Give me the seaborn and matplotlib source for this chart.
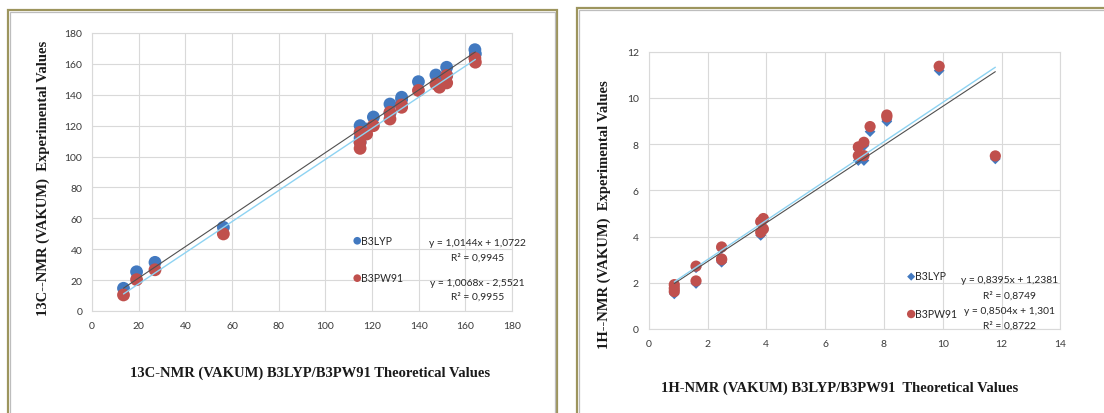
import numpy as np
import pandas as pd
import matplotlib
matplotlib.use("Agg")
import matplotlib.pyplot as plt
from matplotlib.patches import Rectangle
import seaborn as sns

# --- du lieu 13C-NMR ---
c13_x = [13.5, 19.1, 27.0, 56.3, 114.9, 114.9, 114.9, 117.7, 120.6, 127.7, 127.7,
         132.7, 132.7, 139.9, 147.4, 148.9, 152.0, 152.0, 164.1, 164.3]
c13_b3lyp = [14.7, 25.4, 31.5, 54.2, 120.0, 109.2, 112.0, 117.8, 125.6, 134.0, 128.0,
             138.4, 137.0, 148.5, 152.8, 150.2, 157.8, 152.5, 169.2, 166.5]
c13_b3pw91 = [10.4, 20.3, 26.7, 49.9, 115.7, 105.3, 109.2, 114.6, 120.0, 128.7, 124.3,
              133.4, 131.9, 142.8, 147.0, 144.9, 152.5, 147.7, 163.6, 161.1]
c13_fit = {"B3LYP": (1.0144, 1.0722, 0.9945), "B3PW91": (1.0068, -2.5521, 0.9955)}

# --- du lieu 1H-NMR ---
h1_x = [0.87, 0.87, 0.87, 1.61, 1.61, 2.48, 2.48, 2.48, 3.81, 3.81, 3.90, 3.90,
        7.13, 7.13, 7.32, 7.32, 7.53, 8.10, 8.10, 9.88, 11.79]
h1_b3lyp = [1.52, 1.68, 1.84, 2.65, 1.97, 3.48, 2.89, 2.98, 4.58, 4.05, 4.70, 4.25,
            7.78, 7.29, 7.93, 7.29, 8.54, 8.98, 9.05, 11.18, 7.36]
h1_b3pw91 = [1.62, 1.76, 1.92, 2.72, 2.08, 3.55, 3.03, 3.00, 4.65, 4.18, 4.78, 4.33,
             7.88, 7.50, 8.08, 7.50, 8.76, 9.26, 9.18, 11.37, 7.49]
h1_fit = {"B3LYP": (0.8395, 1.2381, 0.8749), "B3PW91": (0.8504, 1.301, 0.8722)}

BLUE = "#4279C0"
RED = "#C0504D"
GRID = "#D9D9D9"
TXT = "#262626"

sns.set_style("white")
plt.rcParams["font.family"] = ["Lato", "DejaVu Sans"]

fig = plt.figure(figsize=(11.04, 4.14), dpi=100)


def eq_text(m, b, r2):
    sign = "+" if b >= 0 else "-"
    s = f"y = {m:g}x {sign} {abs(b):g}"
    return s.replace(".", ","), f"R² = {r2:g}".replace(".", ",")


def style_axes(ax, xmax, xstep, ymax, ystep):
    ax.set_xlim(0, xmax)
    ax.set_ylim(0, ymax)
    ax.set_xticks(np.arange(0, xmax + 0.1, xstep))
    ax.set_yticks(np.arange(0, ymax + 0.1, ystep))
    ax.grid(True, color=GRID, lw=0.8)
    ax.set_axisbelow(True)
    for sp in ax.spines.values():
        sp.set_color(GRID)
        sp.set_linewidth(0.8)
    ax.tick_params(length=0, labelsize=7.5, labelcolor="#3A3A3A", pad=7)
    ax.set_xlabel("")
    ax.set_ylabel("")


def frame(x0, x1, top):
    W, H = 1104, 414
    for off, col, lw in [(0, "#9D955E", 1.6), (2.2, "#BDBDBD", 0.9)]:
        r = Rectangle(((x0 + off) / W, -0.1), (x1 - x0 - 2 * off) / W,
                      1.1 - (top + off) / H, transform=fig.transFigure,
                      fill=False, edgecolor=col, lw=lw)
        fig.add_artist(r)


frame(8, 557, 11)
frame(577, 1115, 9)

# ---------- 13C ----------
ax1 = fig.add_axes([92 / 1104, 1 - 312 / 414, 420 / 1104, 278 / 414])
df1 = pd.DataFrame({"x": c13_x, "B3LYP": c13_b3lyp, "B3PW91": c13_b3pw91})
sns.scatterplot(data=df1, x="x", y="B3LYP", ax=ax1, color=BLUE, s=85,
                edgecolor="none", label="B3LYP", zorder=3)
sns.scatterplot(data=df1, x="x", y="B3PW91", ax=ax1, color=RED, s=85,
                edgecolor="none", label="B3PW91", zorder=4)
xr = np.array([min(c13_x), max(c13_x)])
m, b, _ = c13_fit["B3LYP"]
ax1.plot(xr, m * xr + b, color="#505050", lw=0.8, zorder=5)
m, b, _ = c13_fit["B3PW91"]
ax1.plot(xr, m * xr + b, color="#8ED3F2", lw=1.0, zorder=5)
style_axes(ax1, 180, 20, 180, 20)
ax1.legend(loc="center left", bbox_to_anchor=(0.624, 0.188), frameon=False,
           fontsize=7.6, labelspacing=2.5, handlelength=0.6, handletextpad=0.1,
           borderpad=0, borderaxespad=0, markerscale=0.6, labelcolor=TXT)
for (key, ys) in [("B3LYP", (0.245, 0.194)), ("B3PW91", (0.104, 0.054))]:
    l1, l2 = eq_text(*c13_fit[key])
    ax1.text(0.917, ys[0], l1, transform=ax1.transAxes, ha="center", va="center",
             fontsize=7.4, color=TXT)
    ax1.text(0.917, ys[1], l2, transform=ax1.transAxes, ha="center", va="center",
             fontsize=7.4, color=TXT)

fig.text(43 / 1104, 1 - 178 / 414, "13C--NMR (VAKUM)  Experimental Values",
         rotation=90, ha="center", va="center", family="Liberation Serif",
         weight="bold", fontsize=10.5, color="#1A1A1A")
fig.text(310 / 1104, 1 - 373 / 414, "13C-NMR (VAKUM) B3LYP/B3PW91 Theoretical Values",
         ha="center", va="center", family="Liberation Serif", weight="bold",
         fontsize=10.5, color="#1A1A1A")

# ---------- 1H ----------
ax2 = fig.add_axes([648.7 / 1104, 1 - 330 / 414, 411.6 / 1104, 277.3 / 414])
df2 = pd.DataFrame({"x": h1_x, "B3LYP": h1_b3lyp, "B3PW91": h1_b3pw91})
sns.scatterplot(data=df2, x="x", y="B3LYP", ax=ax2, color=BLUE, s=30, marker="D",
                edgecolor="none", label="B3LYP", zorder=3)
sns.scatterplot(data=df2, x="x", y="B3PW91", ax=ax2, color=RED, s=65,
                edgecolor="none", label="B3PW91", zorder=4)
xr = np.array([min(h1_x), max(h1_x)])
m, b, _ = h1_fit["B3LYP"]
ax2.plot(xr, m * xr + b, color="#505050", lw=0.8, zorder=5)
m, b, _ = h1_fit["B3PW91"]
ax2.plot(xr, m * xr + b, color="#8ED3F2", lw=1.0, zorder=5)
style_axes(ax2, 14, 2, 12, 2)
ax2.legend(loc="center left", bbox_to_anchor=(0.63, 0.124), frameon=False,
           fontsize=7.6, labelspacing=2.5, handlelength=0.6, handletextpad=0.1,
           borderpad=0, borderaxespad=0, markerscale=0.75, labelcolor=TXT)
for (key, ys) in [("B3LYP", (0.18, 0.122)), ("B3PW91", (0.068, 0.014))]:
    l1, l2 = eq_text(*h1_fit[key])
    ax2.text(0.877, ys[0], l1, transform=ax2.transAxes, ha="center", va="center",
             fontsize=7.4, color=TXT)
    ax2.text(0.877, ys[1], l2, transform=ax2.transAxes, ha="center", va="center",
             fontsize=7.4, color=TXT)

fig.text(604 / 1104, 1 - 215 / 414, "1H--NMR (VAKUM)  Experimental Values",
         rotation=90, ha="center", va="center", family="Liberation Serif",
         weight="bold", fontsize=10.5, color="#1A1A1A")
fig.text(840 / 1104, 1 - 388 / 414, "1H-NMR (VAKUM) B3LYP/B3PW91  Theoretical Values",
         ha="center", va="center", family="Liberation Serif", weight="bold",
         fontsize=10.5, color="#1A1A1A")

fig.savefig("out.png", dpi=100)
